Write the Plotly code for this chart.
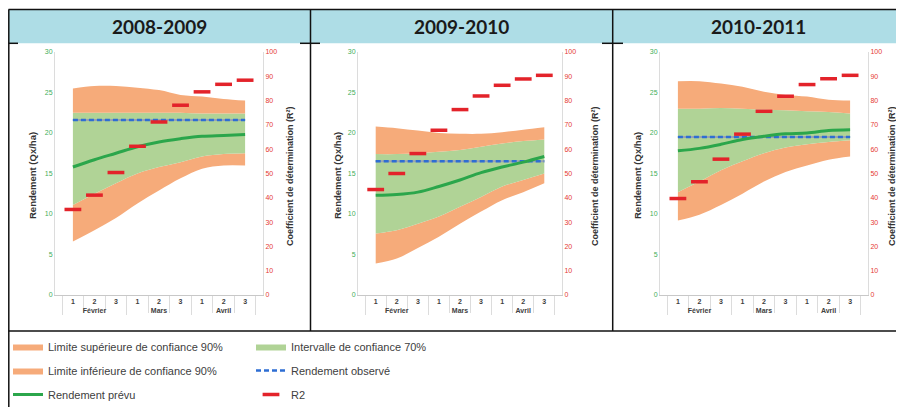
import plotly.graph_objects as go

# the page shows the figure with an 8 px body margin, so the figure is 8 px
# smaller than the window and reference pixel positions are shifted by 8
OFFSET = 8
W, H = 904 - OFFSET, 407 - OFFSET

# categories (decades within each month)
months = ["Février"] * 3 + ["Mars"] * 3 + ["Avril"] * 3
decades = ["1", "2", "3"] * 3

seasons = ["2008-2009", "2009-2010", "2010-2011"]

# 2008-2009
upper90_0809 = [25.5, 25.8, 25.8, 25.6, 25.3, 24.7, 24.5, 24.2, 24.0]
upper70_0809 = [22.5, 22.5, 22.5, 22.5, 22.5, 22.5, 22.4, 22.4, 22.4]
predicted_0809 = [15.8, 16.7, 17.5, 18.3, 18.9, 19.3, 19.6, 19.7, 19.8]
lower70_0809 = [11.1, 12.5, 13.8, 15.0, 15.8, 16.4, 17.1, 17.4, 17.5]
lower90_0809 = [6.6, 8.0, 9.5, 11.3, 12.9, 14.4, 15.6, 16.0, 16.0]
observed_0809 = [21.6] * 9
r2_0809 = [35.2, 41.1, 50.4, 61.2, 71.2, 78.1, 83.6, 86.7, 88.4]

# 2009-2010
upper90_0910 = [20.8, 20.6, 20.3, 20.0, 19.9, 19.9, 20.1, 20.4, 20.7]
upper70_0910 = [17.4, 17.4, 17.5, 17.7, 17.9, 18.3, 18.7, 19.0, 19.2]
predicted_0910 = [12.3, 12.4, 12.7, 13.4, 14.2, 15.1, 15.8, 16.4, 17.1]
lower70_0910 = [7.6, 8.0, 8.8, 9.7, 10.9, 12.1, 13.4, 14.2, 15.0]
lower90_0910 = [3.9, 4.5, 5.8, 7.2, 8.8, 10.3, 11.7, 12.7, 13.8]
observed_0910 = [16.5] * 9
r2_0910 = [43.4, 50.0, 58.2, 67.8, 76.3, 81.9, 86.3, 88.9, 90.4]

# 2010-2011
upper90_1011 = [26.4, 26.4, 26.1, 25.7, 25.1, 24.7, 24.5, 24.1, 24.0]
upper70_1011 = [23.0, 23.0, 23.1, 23.0, 22.9, 22.8, 22.7, 22.6, 22.4]
predicted_1011 = [17.8, 18.1, 18.6, 19.2, 19.6, 19.9, 20.0, 20.3, 20.4]
lower70_1011 = [12.7, 14.0, 15.4, 16.5, 17.5, 18.2, 18.6, 18.9, 19.1]
lower90_1011 = [9.2, 9.9, 11.1, 12.5, 14.0, 15.2, 16.0, 16.7, 17.1]
observed_1011 = [19.5] * 9
r2_1011 = [39.7, 46.6, 55.9, 66.2, 75.6, 81.8, 86.6, 89.0, 90.4]

yield_ticks = [0, 5, 10, 15, 20, 25, 30]
r2_ticks = list(range(0, 101, 10))
yield_title = "Rendement (Qx/ha)"
r2_title = "Coefficient de détermination (R²)"

panels = [
    (upper90_0809, upper70_0809, predicted_0809, lower70_0809, lower90_0809, observed_0809, r2_0809),
    (upper90_0910, upper70_0910, predicted_0910, lower70_0910, lower90_0910, observed_0910, r2_0910),
    (upper90_1011, upper70_1011, predicted_1011, lower70_1011, lower90_1011, observed_1011, r2_1011),
]

ORANGE = "#f6ab7a"
GREEN_BAND = "#b0d396"
GREEN_LINE = "#2ba64b"
BLUE = "#2e6ed3"
RED = "#e3232a"
FONT = "Liberation Sans"


def px(x):
    return (x - OFFSET) / W


def py(y):
    return 1 - (y - OFFSET) / H


# plot area of each panel, in reference pixels (left, right)
x_domains = [(55, 263), (358, 562), (660, 868)]
y_domain = [py(295), py(52)]
# centre of the left / right axis titles, reference pixels
title_x = [(32, 290), (337, 595), (637, 892)]

fig = go.Figure()
x = [months, decades]
annotations = []

for i, (up90, up70, pred, lo70, lo90, obs, r2) in enumerate(panels):
    xa = "x" if i == 0 else f"x{i + 1}"
    ya = "y" if i == 0 else f"y{2 * i + 1}"
    ya2 = f"y{2 * i + 2}"
    first = i == 0

    fig.add_trace(go.Scatter(x=x, y=lo90, mode="lines", line=dict(width=0, shape="spline"),
                             xaxis=xa, yaxis=ya, showlegend=False, hoverinfo="skip"))
    fig.add_trace(go.Scatter(x=x, y=lo70, mode="lines", fill="tonexty", fillcolor=ORANGE,
                             line=dict(width=0, shape="spline", color=ORANGE),
                             name="Limite inférieure de confiance 90%", legend="legend",
                             legendgroup="lo90", legendrank=2, showlegend=first,
                             xaxis=xa, yaxis=ya))
    fig.add_trace(go.Scatter(x=x, y=up70, mode="lines", fill="tonexty", fillcolor=GREEN_BAND,
                             line=dict(width=0, shape="spline", color=GREEN_BAND),
                             name="Intervalle de confiance 70%", legend="legend2",
                             legendgroup="ic70", legendrank=1, showlegend=first,
                             xaxis=xa, yaxis=ya))
    fig.add_trace(go.Scatter(x=x, y=up90, mode="lines", fill="tonexty", fillcolor=ORANGE,
                             line=dict(width=0, shape="spline", color=ORANGE),
                             name="Limite supérieure de confiance 90%", legend="legend",
                             legendgroup="up90", legendrank=1, showlegend=first,
                             xaxis=xa, yaxis=ya))
    fig.add_trace(go.Scatter(x=x, y=obs, mode="lines", line=dict(width=2, color="#9aa3b0"),
                             xaxis=xa, yaxis=ya, showlegend=False, hoverinfo="skip"))
    fig.add_trace(go.Scatter(x=x, y=obs, mode="lines", line=dict(width=2.5, color=BLUE, dash="5px,3px"),
                             name="Rendement observé", legend="legend2",
                             legendgroup="obs", legendrank=2, showlegend=first,
                             xaxis=xa, yaxis=ya))
    fig.add_trace(go.Scatter(x=x, y=pred, mode="lines", line=dict(width=3, color=GREEN_LINE, shape="spline"),
                             name="Rendement prévu", legend="legend",
                             legendgroup="pred", legendrank=3, showlegend=first,
                             xaxis=xa, yaxis=ya))
    fig.add_trace(go.Scatter(x=x, y=r2, mode="markers",
                             marker=dict(symbol="line-ew", size=12, line=dict(width=3.5, color=RED)),
                             name="R2", legend="legend2",
                             legendgroup="r2", legendrank=3, showlegend=first,
                             xaxis=xa, yaxis=ya2))

    sfx = "" if i == 0 else str(i + 1)
    sfy = "" if i == 0 else str(2 * i + 1)
    fig.update_layout(**{
        f"xaxis{sfx}": dict(
            domain=[px(x_domains[i][0]), px(x_domains[i][1])], anchor=ya,
            type="multicategory", showline=True, linecolor="#c8c8c8", linewidth=1,
            ticks="outside", tickson="boundaries", ticklen=17, tickcolor="#dcdcdc",
            showdividers=True, dividercolor="#dcdcdc", dividerwidth=1,
            tickfont=dict(family=FONT, size=7, color="#404040", weight="bold"),
            showgrid=False, zeroline=False, fixedrange=True,
        ),
        f"yaxis{sfy}": dict(
            domain=y_domain, anchor=xa, range=[0, 30], tickvals=yield_ticks,
            showline=True, linecolor="#dcdcdc", linewidth=1, ticks="",
            tickfont=dict(family=FONT, size=7, color="#3fae5a"),
            showgrid=False, zeroline=False,
        ),
        f"yaxis{2 * i + 2}": dict(
            overlaying=ya, side="right", anchor=xa, range=[0, 100], tickvals=r2_ticks,
            showline=True, linecolor="#dcdcdc", linewidth=1, ticks="",
            tickfont=dict(family=FONT, size=7, color="#e53935"),
            showgrid=False, zeroline=False,
        ),
    })

    # axis titles
    for text, tx, size in [(yield_title, title_x[i][0], 9.5), (r2_title, title_x[i][1], 9)]:
        annotations.append(dict(text=text, xref="paper", yref="paper", x=px(tx), y=py(176),
                                textangle=-90, showarrow=False, xanchor="center", yanchor="middle",
                                font=dict(family=FONT, size=size, color="#333333", weight="bold")))

# table look: header band, borders, season titles
shapes = [
    dict(type="rect", xref="paper", yref="paper", x0=px(8.5), x1=px(904), y0=py(43.3), y1=py(9.5),
         fillcolor="#aedde6", line=dict(width=0), layer="below"),
]
line_style = dict(color="#111111", width=1.5)
for (x0, y0, x1, y1) in [
    (8.5, 9.5, 904, 9.5),
    (8.8, 9.5, 8.8, 407),
    (310.5, 9.5, 310.5, 331),
    (612.7, 9.5, 612.7, 331),
    (8.5, 331, 904, 331),
    (8.5, 43.3, 18, 43.3),
    (300, 43.3, 320, 43.3),
    (602, 43.3, 623, 43.3),
]:
    shapes.append(dict(type="line", xref="paper", yref="paper", x0=px(x0), x1=px(x1),
                       y0=py(y0), y1=py(y1), line=line_style, layer="above"))

for title, cx in zip(seasons, [159, 461.6, 758.3]):
    annotations.append(dict(text=title, xref="paper", yref="paper", x=px(cx), y=py(26.5),
                            showarrow=False, xanchor="center", yanchor="middle",
                            font=dict(family="Lato", size=19, color="#1a1a1a", weight="bold")))

legend_style = dict(
    orientation="v", xanchor="left", yanchor="top", y=py(332),
    xref="container", yref="container",
    bgcolor="rgba(0,0,0,0)", traceorder="grouped", tracegroupgap=5,
    font=dict(family=FONT, size=11, color="#404040"),
)

fig.update_layout(
    width=W, height=H,
    margin=dict(l=0, r=0, t=0, b=0, autoexpand=False),
    paper_bgcolor="white", plot_bgcolor="white",
    shapes=shapes, annotations=annotations,
    legend=dict(x=0, **legend_style),
    legend2=dict(x=px(251), **legend_style),
    hovermode=False,
)

fig.write_html("out.html")
